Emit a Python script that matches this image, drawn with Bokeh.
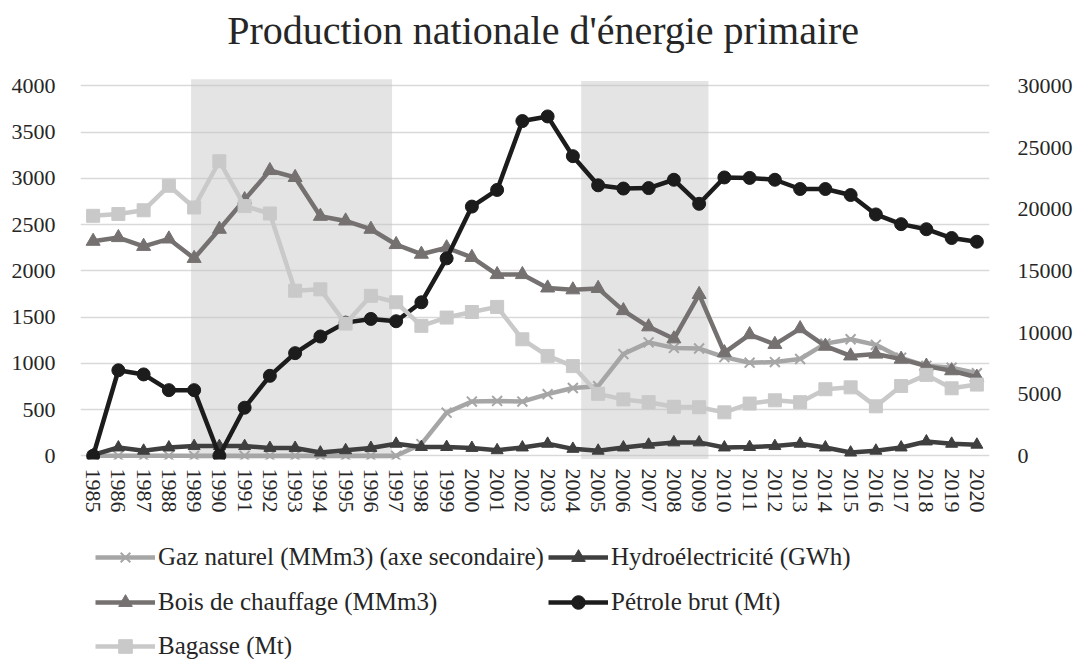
from bokeh.plotting import figure
from bokeh.models import Range1d, LinearAxis, FixedTicker, Legend, LegendItem, ColumnDataSource, Label
from bokeh.layouts import column
from bokeh.embed import file_html
from bokeh.resources import INLINE

# ---------------- data ----------------
annees = [1985, 1986, 1987, 1988, 1989, 1990, 1991, 1992, 1993, 1994, 1995, 1996,
          1997, 1998, 1999, 2000, 2001, 2002, 2003, 2004, 2005, 2006, 2007, 2008,
          2009, 2010, 2011, 2012, 2013, 2014, 2015, 2016, 2017, 2018, 2019, 2020]

gaz_naturel = [0, 0, 0, 0, 0, 0, 0, 0, 0, 0, 0, 0, 0,
               950, 3500, 4400, 4450, 4400, 5000, 5500, 5650, 8250, 9200, 8750,
               8700, 8000, 7550, 7600, 7850, 9100, 9450, 9000, 7950, 7300, 7150, 6700]

hydroelectricite = [10, 90, 55, 90, 105, 105, 105, 85, 85, 35, 60, 85, 130, 95, 95, 85,
                    60, 90, 130, 75, 55, 90, 120, 145, 145, 90, 95, 105, 130, 90, 35,
                    55, 90, 155, 130, 120]

bois_chauffage = [2320, 2360, 2265, 2345, 2135, 2450, 2770, 3085, 3010, 2590, 2540, 2450,
                  2285, 2180, 2250, 2145, 1960, 1960, 1815, 1795, 1810, 1570, 1395, 1265,
                  1745, 1115, 1310, 1205, 1375, 1185, 1080, 1100, 1045, 970, 920, 850]

petrole_brut = [0, 925, 880, 710, 710, 0, 520, 865, 1110, 1290, 1440, 1480, 1455, 1660,
                2135, 2695, 2875, 3620, 3670, 3240, 2925, 2890, 2895, 2985, 2725, 3010,
                3005, 2985, 2885, 2885, 2820, 2610, 2505, 2450, 2355, 2315]

bagasse = [2595, 2615, 2655, 2920, 2685, 3185, 2700, 2620, 1785, 1800, 1430, 1730, 1660,
           1405, 1495, 1555, 1610, 1260, 1080, 970, 670, 610, 580, 530, 525, 470, 565,
           600, 580, 720, 740, 535, 755, 875, 730, 770]

periodes_grisees = [(1988.88, 1996.84), (2004.33, 2009.37)]

ticks_gauche = [0, 500, 1000, 1500, 2000, 2500, 3000, 3500, 4000]
ticks_droite = [0, 5000, 10000, 15000, 20000, 25000, 30000]

titre = "Production nationale d'énergie primaire"
noms = ["Gaz naturel (MMm3) (axe secondaire)", "Hydroélectricité (GWh)",
        "Bois de chauffage (MMm3)", "Pétrole brut (Mt)", "Bagasse (Mt)"]

# ---------------- styles ----------------
FONT = "Liberation Serif"
TXT = "#262626"
LW = 4.5
styles = [
    dict(color="#a6a6a6", marker="x", size=14),
    dict(color="#3f3f3f", marker="triangle", size=12),
    dict(color="#767171", marker="triangle", size=14),
    dict(color="#1c1c1c", marker="circle", size=13),
    dict(color="#c9c9c9", marker="square", size=13),
]
cols = ["gaz", "hydro", "bois", "petrole", "bag"]

W = 1075
H0 = 60
H1 = 464
H2 = 659 - H0 - H1


def bare(fig):
    fig.grid.visible = False
    fig.outline_line_color = None
    return fig


# ---------------- title strip ----------------
p0 = bare(figure(width=W, height=H0, output_backend="svg", toolbar_location=None,
                 x_range=Range1d(0, 1), y_range=Range1d(0, H0),
                 x_axis_location=None, y_axis_location=None,
                 min_border_left=0, min_border_right=0, min_border_top=0,
                 min_border_bottom=0))
p0.add_layout(Label(x=0.509, y=30, text=titre, text_align="center",
                    text_baseline="alphabetic", text_font=FONT,
                    text_font_size="40px", text_color=TXT))

# ---------------- main figure ----------------
p = figure(width=W, height=H1, output_backend="svg", toolbar_location=None,
           x_range=Range1d(1984.5, 2020.5), y_range=Range1d(-40, 4080),
           min_border_left=80, min_border_right=80, min_border_top=18,
           min_border_bottom=65)
p.extra_y_ranges = {"sec": Range1d(-40 * 7.5, 4080 * 7.5)}

p.outline_line_color = None
p.xgrid.visible = False
p.ygrid.ticker = FixedTicker(ticks=ticks_gauche)
p.ygrid.grid_line_color = "#d9d9d9"
p.ygrid.grid_line_width = 1.5

for ax in (p.xaxis[0], p.yaxis[0]):
    ax.axis_line_color = None
    ax.major_tick_line_color = None
    ax.minor_tick_line_color = None
    ax.major_label_text_font = FONT
    ax.major_label_text_font_size = "22px"
    ax.major_label_text_color = TXT

p.xaxis.ticker = FixedTicker(ticks=annees)
p.xaxis.major_label_orientation = "vertical"
p.xaxis.major_label_standoff = 3
p.yaxis.ticker = FixedTicker(ticks=ticks_gauche)
p.yaxis.major_label_standoff = 19

ax2 = LinearAxis(y_range_name="sec", ticker=FixedTicker(ticks=ticks_droite))
ax2.axis_line_color = None
ax2.major_tick_line_color = None
ax2.minor_tick_line_color = None
ax2.major_label_text_font = FONT
ax2.major_label_text_font_size = "22px"
ax2.major_label_text_color = TXT
ax2.major_label_standoff = 22
p.add_layout(ax2, "right")

# shaded periods
p.quad(left=[a for a, b in periodes_grisees], right=[b for a, b in periodes_grisees],
       bottom=[-36, -36], top=[4072, 4054], fill_color="#c4c4c4", fill_alpha=0.45,
       line_color=None)

src = ColumnDataSource(dict(x=annees, gaz=gaz_naturel, hydro=hydroelectricite,
                            bois=bois_chauffage, petrole=petrole_brut, bag=bagasse))

for col, st in zip(cols, styles):
    kw = dict(y_range_name="sec") if col == "gaz" else {}
    p.line("x", col, source=src, line_color=st["color"], line_width=LW, **kw)
    if st["marker"] == "x":
        p.scatter("x", col, source=src, marker="x", size=st["size"],
                  line_color=st["color"], line_width=2, **kw)
    else:
        p.scatter("x", col, source=src, marker=st["marker"], size=st["size"],
                  fill_color=st["color"], line_color=st["color"], **kw)

# ---------------- legend strip ----------------
p2 = bare(figure(width=W, height=H2, output_backend="svg", toolbar_location=None,
                 x_range=Range1d(0, 1), y_range=Range1d(0, 1),
                 x_axis_location=None, y_axis_location=None,
                 min_border_left=0, min_border_right=0, min_border_top=0,
                 min_border_bottom=0))

# legend proxies: points placed outside the visible range
hors_champ = dict(x=[-5, -4], y=[-5, -5])
items = []
for nom, st in zip(noms, styles):
    lr = p2.line(x=hors_champ["x"], y=hors_champ["y"], line_color=st["color"], line_width=LW)
    if st["marker"] == "x":
        mr = p2.scatter(x=hors_champ["x"], y=hors_champ["y"], marker="x", size=st["size"],
                        line_color=st["color"], line_width=2)
    else:
        mr = p2.scatter(x=hors_champ["x"], y=hors_champ["y"], marker=st["marker"],
                        size=st["size"], fill_color=st["color"], line_color=st["color"])
    items.append(LegendItem(label=nom, renderers=[lr, mr]))

positions = [(15, 85), (468, 85), (15, 40), (468, 40), (15, -4)]
for it, loc in zip(items, positions):
    leg = Legend(items=[it], location=loc, orientation="horizontal", glyph_width=60,
                 glyph_height=34, label_standoff=3, padding=0, margin=0, spacing=0,
                 border_line_color=None, background_fill_alpha=0,
                 label_text_font=FONT, label_text_font_size="25px",
                 label_text_color=TXT, label_height=34)
    p2.add_layout(leg, "center")

open("out.html", "w").write(file_html(column(p0, p, p2, spacing=0), INLINE))
